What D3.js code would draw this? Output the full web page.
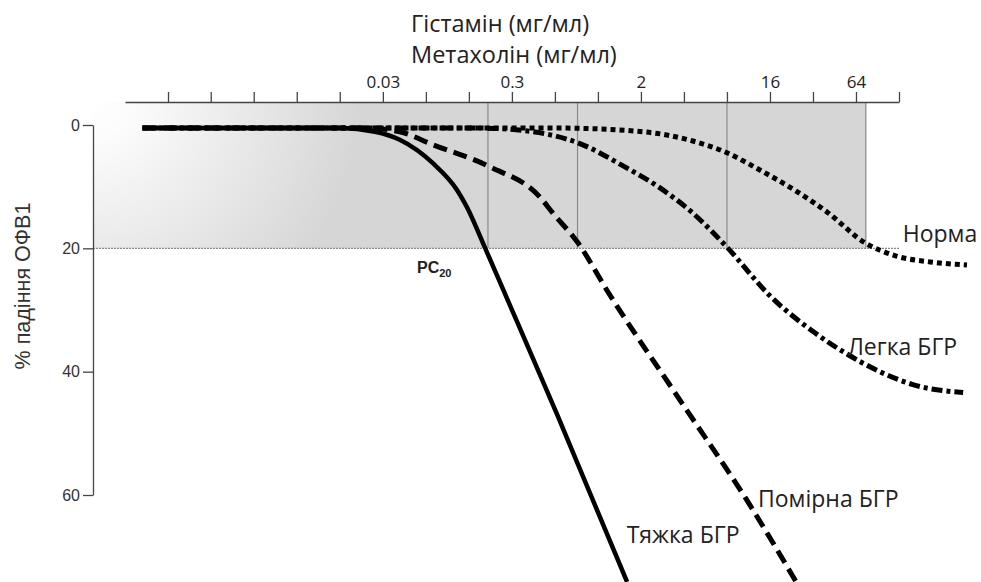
<!DOCTYPE html>
<html>
<head>
<meta charset="utf-8">
<script src="https://cdn.jsdelivr.net/npm/d3@7"></script>
<style>
  body { margin: 0; background: #fff; }
  svg { display: block; }
</style>
</head>
<body>
<script>
  // doses are mg/ml on a doubling scale, fall is % drop of FEV1
  const doseTicks = [0.00098, 0.00195, 0.0039, 0.0078, 0.0156, 0.03125, 0.0625, 0.125, 0.25, 0.5, 1, 2, 4, 8, 16, 32, 64, 128];
  const doseTickLabels = ["", "", "", "", "", "0.03", "", "", "0.3", "", "", "2", "", "", "16", "", "64", ""];
  const fallTicks = [0, 20, 40, 60];

  const severeDose = [0.00065, 0.0156, 0.0275, 0.041, 0.070, 0.103, 0.121, 0.162, 0.242, 0.517, 1.6];
  const severeFall = [0.5, 0.5, 1.1, 2.4, 6.2, 10.5, 13.3, 19.9, 29.2, 46.9, 74.1];

  const moderateDose = [0.00065, 0.0234, 0.041, 0.070, 0.176, 0.393, 0.484, 0.725, 1.156, 3.75, 11.0, 24.7];
  const moderateFall = [0.5, 0.5, 1.1, 3.2, 6.8, 11.7, 14.3, 19.1, 26.8, 44.6, 60.8, 74.3];

  const mildDose = [0.00065, 0.149, 0.351, 0.725, 1.545, 2.72, 4.62, 8.0, 16, 33, 55, 94, 160, 360];
  const mildFall = [0.5, 0.5, 1.1, 2.9, 6.8, 10.2, 14.3, 19.8, 27.7, 33.7, 37.1, 40.0, 42.1, 43.4];

  const normalDose = [0.00065, 0.542, 2.07, 4.62, 8.0, 13.6, 23.2, 40.1, 75.2, 94.2, 124, 211, 383];
  const normalFall = [0.5, 0.5, 1.1, 2.6, 4.5, 7.3, 10.4, 14.1, 19.2, 20.3, 21.3, 22.2, 22.7];

  const seriesNames = ["Норма", "Легка БГР", "Помірна БГР", "Тяжка БГР"];
  const pc20 = [0.17, 0.72, 8, 75]; // PC20 for severe, moderate, mild, normal

  const width = 981, height = 582;

  const svg = d3.select("body").append("svg")
      .attr("width", width)
      .attr("height", height);

  const x = d3.scaleLog().base(2).domain([0.00049, 128]).range([125, 899]);
  const y = d3.scaleLinear().domain([0, 60]).range([125, 495]);
  const yAxisX = 93, topAxisY = 102;

  // shaded PC20 box with a light corner
  const defs = svg.append("defs");
  const grad = defs.append("radialGradient")
      .attr("id", "shade")
      .attr("gradientUnits", "userSpaceOnUse")
      .attr("cx", 90).attr("cy", 98).attr("r", 270);
  grad.append("stop").attr("offset", 0).attr("stop-color", "#ffffff");
  grad.append("stop").attr("offset", 0.15).attr("stop-color", "#fcfcfc");
  grad.append("stop").attr("offset", 1).attr("stop-color", "#d6d6d6");

  svg.append("rect")
      .attr("x", yAxisX)
      .attr("y", topAxisY)
      .attr("width", x(d3.max(pc20)) - yAxisX)
      .attr("height", y(20) - topAxisY)
      .attr("fill", "url(#shade)");

  // PC20 markers
  svg.selectAll("line.pc")
    .data(pc20)
    .enter().append("line")
      .attr("class", "pc")
      .attr("x1", d => x(d)).attr("x2", d => x(d))
      .attr("y1", topAxisY).attr("y2", y(20))
      .attr("stroke", "#8a8a8a")
      .attr("stroke-width", 1.2);

  svg.append("line")
      .attr("x1", yAxisX).attr("x2", 899)
      .attr("y1", y(20)).attr("y2", y(20))
      .attr("stroke", "#8a8a8a")
      .attr("stroke-width", 1.2)
      .attr("stroke-dasharray", "2,1");

  // top dose axis
  const topAxis = d3.axisTop(x)
      .tickValues(doseTicks)
      .tickFormat((d, i) => doseTickLabels[i])
      .tickSize(10)
      .tickSizeOuter(0)
      .tickPadding(4);

  const gx = svg.append("g")
      .attr("transform", "translate(0," + topAxisY + ")")
      .call(topAxis);
  gx.select(".domain").attr("stroke", "#444").attr("stroke-width", 1.3);
  gx.selectAll(".tick line").attr("stroke", "#444").attr("stroke-width", 1.3);
  gx.selectAll(".tick text")
      .attr("font-family", "Open Sans")
      .attr("font-size", 17)
      .attr("fill", "#222");

  // left axis
  const leftAxis = d3.axisLeft(y)
      .tickValues(fallTicks)
      .tickSize(10)
      .tickSizeOuter(0)
      .tickPadding(3);
  const gy = svg.append("g")
      .attr("transform", "translate(" + yAxisX + ",0)")
      .call(leftAxis);
  gy.select(".domain").attr("stroke", "#444").attr("stroke-width", 1.3);
  gy.selectAll(".tick line").attr("stroke", "#444").attr("stroke-width", 1.3);
  gy.selectAll(".tick text")
      .attr("font-family", "Liberation Sans, Arial")
      .attr("font-size", 16)
      .attr("fill", "#333");

  svg.append("text")
      .attr("transform", "translate(30,286) rotate(-90)")
      .attr("text-anchor", "middle")
      .attr("font-family", "Liberation Sans, Arial")
      .attr("font-size", 21.5)
      .attr("fill", "#333")
      .text("% падіння ОФВ1");

  // titles
  svg.append("text")
      .attr("x", 411).attr("y", 32)
      .attr("font-family", "Open Sans")
      .attr("font-size", 23.5)
      .attr("fill", "#222")
      .text("Гістамін (мг/мл)");
  svg.append("text")
      .attr("x", 411).attr("y", 63)
      .attr("font-family", "Open Sans")
      .attr("font-size", 23.5)
      .attr("fill", "#222")
      .text("Метахолін (мг/мл)");

  // PC20 label
  const pcText = svg.append("text")
      .attr("x", 417).attr("y", 273)
      .attr("font-family", "Liberation Sans, Arial")
      .attr("font-weight", "bold")
      .attr("font-size", 16)
      .attr("fill", "#222")
      .text("PC");
  pcText.append("tspan")
      .attr("font-size", 11)
      .attr("dy", 4)
      .text("20");

  // curves
  const curves = [
    {dose: normalDose, fall: normalFall, dash: "5,4", w: 5},
    {dose: mildDose, fall: mildFall, dash: "11,4,4,4", w: 5},
    {dose: moderateDose, fall: moderateFall, dash: "14,7", w: 5},
    {dose: severeDose, fall: severeFall, dash: null, w: 4.5}
  ];

  const line = d3.line()
      .x(d => x(d[0]))
      .y(d => y(d[1]))
      .curve(d3.curveMonotoneX);

  svg.selectAll("path.curve")
    .data(curves)
    .enter().append("path")
      .attr("class", "curve")
      .attr("d", c => line(c.dose.map((d, i) => [d, c.fall[i]])))
      .attr("fill", "none")
      .attr("stroke", "#000")
      .attr("stroke-width", c => c.w)
      .attr("stroke-dasharray", c => c.dash);

  // curve labels, anchored in data space [dose, fall]
  const labelAt = [[136, 19.0], [56, 37.3], [13.2, 61.9], [1.59, 67.8]];
  svg.selectAll("text.lab")
    .data(seriesNames)
    .enter().append("text")
      .attr("class", "lab")
      .attr("x", (d, i) => x(labelAt[i][0]))
      .attr("y", (d, i) => y(labelAt[i][1]))
      .attr("font-family", "Open Sans")
      .attr("font-size", 23)
      .attr("fill", "#222")
      .text(d => d);
</script>
</body>
</html>
